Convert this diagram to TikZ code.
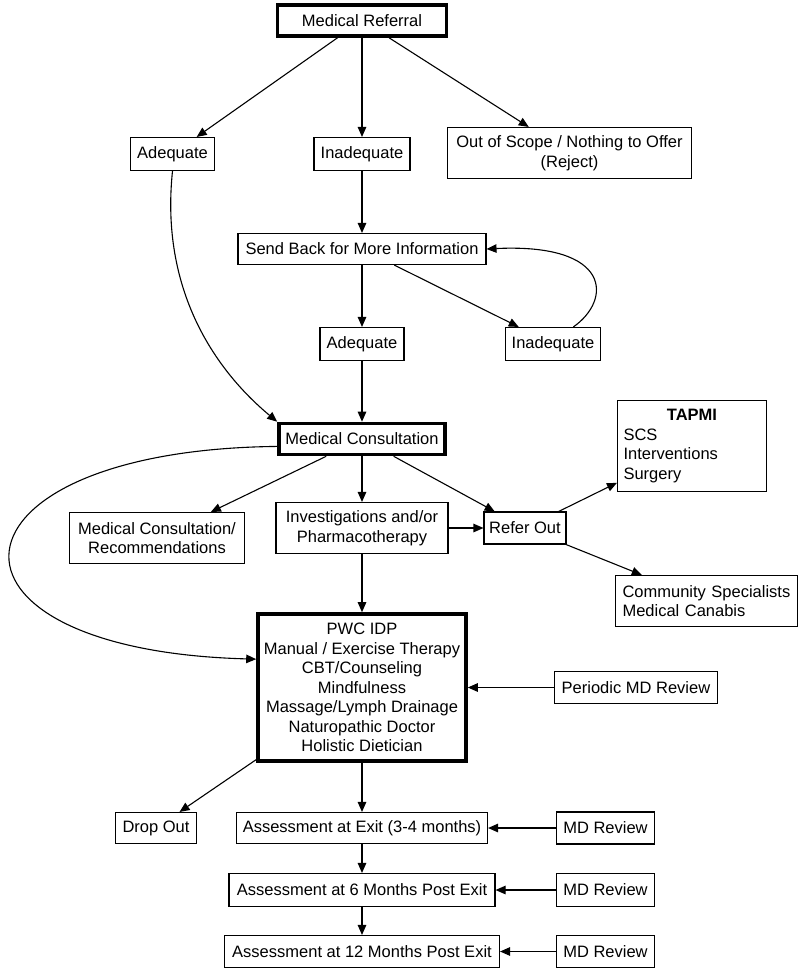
\documentclass[tikz,border=0pt]{standalone}
\usepackage{fontspec}
\setmainfont{Liberation Sans}
\usetikzlibrary{arrows.meta,calc}
\begin{document}
\begin{tikzpicture}[x=1pt,y=-1pt,
  box/.style={draw, line width=1.1pt, inner sep=0pt, align=center, font=\fontsize{16.5}{19.5}\selectfont},
  boldbox/.style={box, line width=3.6pt},
  arr/.style={-{Triangle[length=10pt,width=8.5pt]}, line width=1.1pt}]
\useasboundingbox (0,0) rectangle (800,972);
% nodes
\node[boldbox, minimum width=169pt, minimum height=31pt] (ref) at (362,20.5) {Medical Referral};
\node[box, minimum width=84pt, minimum height=33pt] (ad1) at (172.5,154) {Adequate};
\node[box, minimum width=96pt, minimum height=33pt] (inad1) at (362,154) {Inadequate};
\node[box, minimum width=244pt, minimum height=51pt] (oos) at (569.5,153) {Out of Scope / Nothing to Offer\\(Reject)};
\node[box, minimum width=248pt, minimum height=31pt] (send) at (362,249) {Send Back for More Information};
\node[box, minimum width=84pt, minimum height=33pt] (ad2) at (362,344) {Adequate};
\node[box, minimum width=95pt, minimum height=33pt] (inad2) at (553,344) {Inadequate};
\node[boldbox, minimum width=166pt, minimum height=31pt] (mc) at (362,439) {Medical Consultation};
\node[box, minimum width=175pt, minimum height=51pt] (rec) at (157,538) {Medical Consultation/\\Recommendations};
\node[box, minimum width=172pt, minimum height=51pt] (inv) at (362,528) {Investigations and/or\\Pharmacotherapy};
\node[box, minimum width=82pt, minimum height=32pt] (refer) at (525,528) {Refer Out};
\node[box, text width=137pt, inner xsep=6pt, minimum height=91pt, align=left] (tapmi) at (692,446) {\makebox[\linewidth]{\textbf{TAPMI}}\\SCS\\Interventions\\Surgery};
\node[box, text width=168pt, inner xsep=7pt, minimum height=51pt, align=left] (comm) at (706.5,601) {Community Specialists\\Medical Canabis};
\node[boldbox, minimum width=208pt, minimum height=147pt] (pwc) at (362,687.5) {PWC IDP\\Manual / Exercise Therapy\\CBT/Counseling\\Mindfulness\\Massage/Lymph Drainage\\Naturopathic Doctor\\Holistic Dietician};
\node[box, minimum width=163pt, minimum height=32pt] (per) at (636,687.5) {Periodic MD Review};
\node[box, minimum width=81pt, minimum height=31pt] (drop) at (156,828) {Drop Out};
\node[box, minimum width=251pt, minimum height=31pt] (ex) at (362,828) {Assessment at Exit (3-4 months)};
\node[box, minimum width=266pt, minimum height=33pt] (m6) at (362,890) {Assessment at 6 Months Post Exit};
\node[box, minimum width=275pt, minimum height=32pt] (m12) at (362,951.5) {Assessment at 12 Months Post Exit};
\node[box, minimum width=98pt, minimum height=32pt] (r1) at (605.5,828) {MD Review};
\node[box, minimum width=98pt, minimum height=33pt] (r2) at (605.5,890) {MD Review};
\node[box, minimum width=98pt, minimum height=32pt] (r3) at (605.5,951.5) {MD Review};
% connectors
\draw[arr] (ref) -- (ad1);
\draw[arr] (ref) -- (inad1);
\draw[arr] (ref) -- (oos);
\draw[arr] (inad1) -- (send);
\draw[arr] (send) -- (ad2);
\draw[arr] (send) -- (inad2);
\draw[arr] (inad2.40) .. controls (612,300) and (612,243) .. (send.east);
\draw[arr] (ad1.south) .. controls (160,290) and (215,370) .. (mc.north west);
\draw[arr] (ad2) -- (mc);
\draw[arr] (mc) -- (rec);
\draw[arr] (mc) -- (inv);
\draw[arr] (mc) -- (refer);
\draw[arr] (inv) -- (refer);
\draw[arr] (refer) -- (tapmi);
\draw[arr] (refer) -- (comm);
\draw[arr] (inv) -- (pwc);
\draw[arr] (mc.185) .. controls (-65,450) and (-85,650) .. (pwc.165);
\draw[arr] (per) -- (pwc);
\draw[arr] (pwc) -- (drop);
\draw[arr] (pwc) -- (ex);
\draw[arr] (ex) -- (m6);
\draw[arr] (m6) -- (m12);
\draw[arr] (r1) -- (ex);
\draw[arr] (r2) -- (m6);
\draw[arr] (r3) -- (m12);
\end{tikzpicture}
\end{document}
